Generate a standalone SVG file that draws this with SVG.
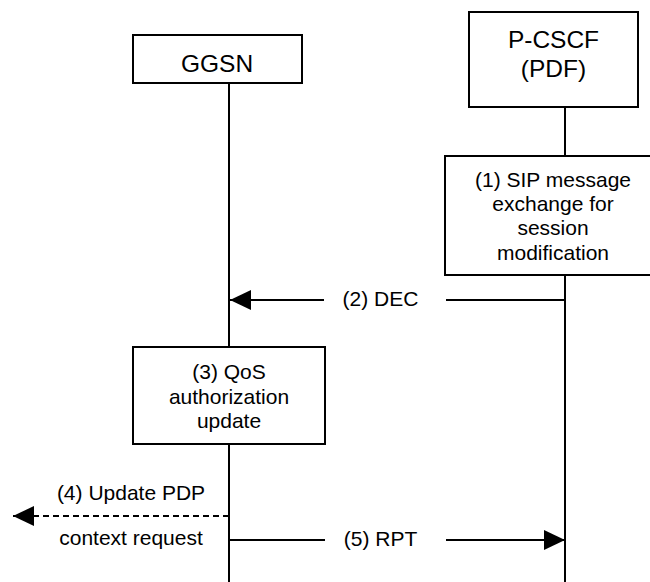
<svg xmlns="http://www.w3.org/2000/svg" width="650" height="582" viewBox="0 0 650 582">
  <style>
    .box { fill: #ffffff; stroke: #000000; stroke-width: 2; }
    .life { stroke: #000000; stroke-width: 2; fill: none; }
    .msg { stroke: #000000; stroke-width: 2; fill: none; }
    .dash { stroke-dasharray: 6 4; }
    .title { font-family: "Liberation Sans", Arial, sans-serif; font-size: 24.5px; fill: #000000; text-anchor: middle; }
    .lbl { font-family: "Liberation Sans", Arial, sans-serif; font-size: 21px; fill: #000000; text-anchor: middle; }
  </style>
  <defs>
    <marker id="head" markerUnits="userSpaceOnUse" markerWidth="21" markerHeight="20" viewBox="0 0 21 20" refX="21" refY="10" orient="auto">
      <path d="M0,0 L21,10 L0,20 Z" fill="#000000" stroke="none"/>
    </marker>
  </defs>
  <rect width="650" height="582" fill="#ffffff"/>

  <g id="lifelines">
    <line class="life" x1="229" y1="83" x2="229" y2="582"/>
    <line class="life" x1="565" y1="107" x2="565" y2="582"/>
  </g>

  <g id="ggsn">
    <rect class="box" x="133" y="35" width="169" height="48"/>
    <text class="title" x="217" y="71.5">GGSN</text>
  </g>

  <g id="pcscf">
    <rect class="box" x="469" y="12" width="169" height="95"/>
    <text class="title" x="553.5" y="47.5">P-CSCF</text>
    <text class="title" x="553.5" y="77">(PDF)</text>
  </g>

  <g id="step1">
    <rect class="box" x="445" y="156" width="230" height="119"/>
    <text class="lbl" x="553" y="186.5">(1) SIP message</text>
    <text class="lbl" x="553" y="211">exchange for</text>
    <text class="lbl" x="553" y="235">session</text>
    <text class="lbl" x="553" y="259.5">modification</text>
  </g>

  <g id="step3">
    <rect class="box" x="133" y="347" width="192" height="97"/>
    <text class="lbl" x="229" y="379">(3) QoS</text>
    <text class="lbl" x="229" y="403.5">authorization</text>
    <text class="lbl" x="229" y="428">update</text>
  </g>

  <g id="connectors">
    <line class="msg" x1="446" y1="300" x2="565" y2="300"/>
    <line class="msg" x1="324" y1="300" x2="230" y2="300" marker-end="url(#head)"/>
    <text class="lbl" x="380.5" y="306">(2) DEC</text>

    <line class="msg dash" x1="229" y1="516" x2="13" y2="516" marker-end="url(#head)"/>
    <text class="lbl" x="131" y="500">(4) Update PDP</text>
    <text class="lbl" x="131" y="545">context request</text>

    <line class="msg" x1="229" y1="540" x2="325" y2="540"/>
    <line class="msg" x1="446" y1="540" x2="565" y2="540" marker-end="url(#head)"/>
    <text class="lbl" x="380.5" y="545.5">(5) RPT</text>
  </g>
</svg>
